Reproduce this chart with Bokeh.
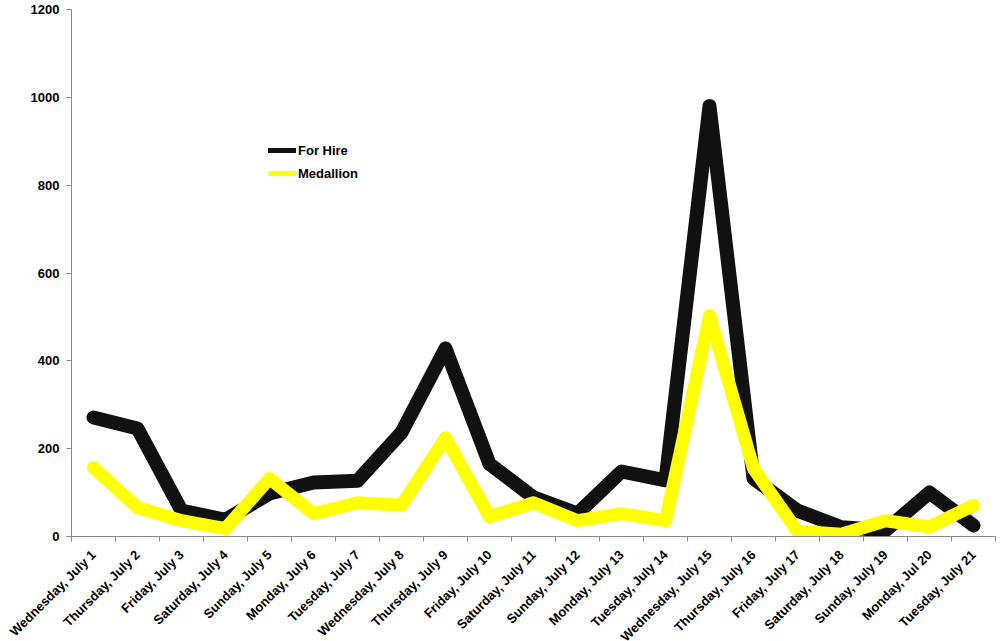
import math
from bokeh.plotting import figure
from bokeh.models import Range1d, FixedTicker, Legend, LegendItem
from bokeh.embed import file_html
from bokeh.resources import INLINE

days = ["Wednesday, July 1", "Thursday, July 2", "Friday, July 3", "Saturday, July 4",
        "Sunday, July 5", "Monday, July 6", "Tuesday, July 7", "Wednesday, July 8",
        "Thursday, July 9", "Friday, July 10", "Saturday, July 11", "Sunday, July 12",
        "Monday, July 13", "Tuesday, July 14", "Wednesday, July 15", "Thursday, July 16",
        "Friday, July 17", "Saturday, July 18", "Sunday, July 19", "Monday, Jul 20",
        "Tuesday, July 21"]
for_hire = [271, 246, 59, 38, 98, 123, 127, 237, 428, 165, 89, 52, 148, 128, 980, 132,
            59, 21, 14, 100, 25]
medallion = [157, 66, 36, 18, 132, 52, 77, 71, 225, 45, 77, 36, 52, 36, 503, 155,
             12, 5, 36, 22, 71]
y_ticks = [0, 200, 400, 600, 800, 1000, 1200]
y_max = 1200

n = len(days)
x = list(range(1, n + 1))

# layout of the plotting area inside the picture (pixels)
W, H = 1007, 641
left_px, right_px = 71, 995
top_px, axis_px = 9, 536
px_per_x = (right_px - left_px) / n
px_per_y = (axis_px - top_px) / y_max
x_start = 0.5 - left_px / px_per_x
x_end = n + 0.5 + (W - right_px) / px_per_x
y_top = y_max + top_px / px_per_y
y_bottom = -(H - axis_px) / px_per_y

p = figure(width=W, height=H, output_backend="svg", toolbar_location=None,
           x_range=Range1d(x_start, x_end), y_range=Range1d(y_bottom, y_top),
           min_border_left=0, min_border_top=0, min_border_right=0, min_border_bottom=0)
p.outline_line_color = None
p.xgrid.grid_line_color = None
p.ygrid.grid_line_color = None

r1 = p.line(x, for_hire, line_color="#111111", line_width=14, line_cap="round", line_join="round")
r2 = p.line(x, medallion, line_color="#FFFF00", line_width=13, line_cap="round", line_join="round")
# white mask below the zero line (the plot area ends at 0)
p.quad(left=[0.5], right=[n + 0.5], top=[0], bottom=[y_bottom], fill_color="white",
       line_color=None)

l1 = p.line([-50, -49], [0, 0], line_color="#111111", line_width=5, line_cap="round")
l2 = p.line([-50, -49], [0, 0], line_color="#FFFF00", line_width=5)

legend = Legend(items=[LegendItem(label="For Hire", renderers=[l1]),
                       LegendItem(label="Medallion", renderers=[l2])],
                location=(268, H - 183), border_line_color=None, background_fill_alpha=0,
                padding=0, margin=0, glyph_width=28, glyph_height=20, spacing=3,
                label_standoff=2, label_text_font="Liberation Sans",
                label_text_font_style="bold", label_text_font_size="13px",
                label_text_color="#000000")
p.add_layout(legend)

boundaries = [i + 0.5 for i in range(n + 1)]
xa = p.xaxis[0]
xa.fixed_location = 0
xa.bounds = (0.5, n + 0.5)
xa.ticker = FixedTicker(ticks=x, minor_ticks=boundaries)
xa.major_label_overrides = {i: d for i, d in zip(x, days)}
xa.major_label_orientation = math.pi / 4
xa.major_tick_line_color = None
xa.major_tick_out = 0
xa.major_tick_in = 0
xa.minor_tick_line_color = "#888888"
xa.minor_tick_out = 5
xa.minor_tick_in = 0
xa.axis_line_color = "#888888"
xa.major_label_text_font = "Liberation Sans"
xa.major_label_text_font_style = "bold"
xa.major_label_text_font_size = "13px"
xa.major_label_text_color = "#000000"
xa.major_label_standoff = 11

ya = p.yaxis[0]
ya.fixed_location = 0.5
ya.bounds = (0, y_max)
ya.ticker = FixedTicker(ticks=y_ticks, minor_ticks=[])
ya.major_tick_line_color = "#888888"
ya.major_tick_out = 5
ya.major_tick_in = 0
ya.axis_line_color = "#888888"
ya.major_label_text_font = "Liberation Sans"
ya.major_label_text_font_style = "bold"
ya.major_label_text_font_size = "13px"
ya.major_label_text_color = "#000000"
ya.major_label_standoff = 7

open("out.html", "w").write(file_html(p, INLINE))
